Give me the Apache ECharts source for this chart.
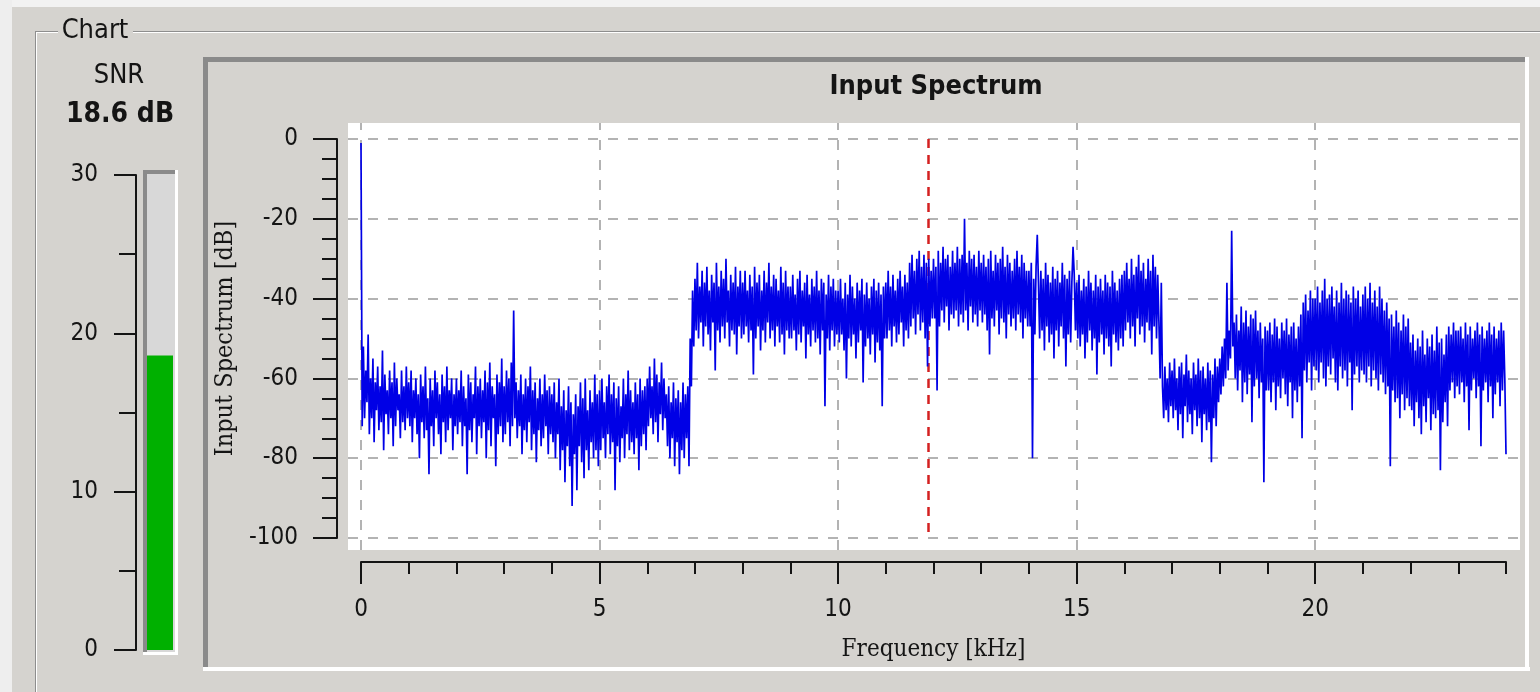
<!DOCTYPE html>
<html>
<head>
<meta charset="utf-8">
<script src="https://cdn.jsdelivr.net/npm/echarts@6/dist/echarts.min.js"></script>
<style>
html, body { margin: 0; padding: 0; background: #d5d3cf; }
#main { width: 1540px; height: 692px; }
</style>
</head>
<body>
<div id="main"></div>
<script>
// SNR meter
var snrRange = [0, 30];
var snrValue = 18.6;

// spectrum axes
var freqTicks = [0, 5, 10, 15, 20];
var dbTicks = [0, -20, -40, -60, -80, -100];
var freqMax = 24;
var markerFreq = 11.9;
var binWidth = 0.025; // kHz per bin

// input spectrum in dB, one row per kHz (40 bins each)
var specLowBand = [
    -1, -72, -52, -70, -58, -66, -49, -74, -60, -70, -55, -76, -61, -68, -57, -73, -62, -71, -53, -78,
    -59, -69, -63, -74, -58, -70, -61, -77, -56, -72, -60, -68, -64, -75, -58, -71, -62, -73, -57, -70,
    -61, -72, -58, -76, -63, -70, -60, -74, -64, -80, -59, -71, -62, -75, -57, -73, -65, -84, -60, -72,
    -63, -77, -58, -70, -61, -74, -64, -79, -59, -71, -62, -76, -57, -73, -63, -70, -60, -78, -64, -72,
    -60, -74, -63, -71, -58, -77, -62, -72, -65, -84, -59, -73, -61, -76, -64, -70, -57, -79, -62, -72,
    -60, -75, -63, -71, -58, -80, -61, -73, -56, -77, -62, -70, -64, -82, -59, -74, -61, -72, -55, -76,
    -62, -74, -58, -71, -60, -77, -56, -72, -43, -70, -61, -75, -63, -72, -59, -79, -64, -73, -60, -76,
    -62, -71, -57, -78, -63, -74, -61, -81, -65, -73, -60, -77, -64, -75, -59, -72, -63, -79, -62, -74,
    -64, -76, -61, -80, -66, -74, -60, -83, -67, -78, -63, -86, -68, -77, -62, -82, -66, -92, -69, -79,
    -64, -88, -67, -77, -61, -81, -65, -85, -60, -78, -68, -83, -63, -76, -66, -80, -59, -78, -64, -82,
    -63, -78, -60, -75, -66, -80, -62, -74, -59, -79, -64, -76, -61, -88, -65, -77, -62, -81, -67, -75,
    -60, -80, -64, -74, -58, -78, -63, -76, -66, -79, -61, -75, -64, -83, -60, -77, -63, -74, -62, -78,
    -60, -72, -57, -70, -62, -74, -55, -71, -59, -76, -61, -69, -56, -73, -60, -70, -64, -77, -62, -80,
    -66, -75, -61, -82, -65, -76, -63, -84, -66, -78, -61, -80, -64, -75, -62, -82, -50, -62, -38, -52
];
var specMidBand = [
    -35, -48, -31, -50, -37, -46, -33, -52, -36, -47, -32, -49, -38, -53, -34, -46, -36, -58, -31, -48,
    -37, -51, -33, -47, -35, -50, -30, -46, -38, -52, -34, -48, -36, -49, -32, -54, -37, -47, -33, -50,
    -36, -49, -33, -47, -38, -51, -34, -48, -37, -59, -32, -50, -36, -47, -34, -53, -38, -48, -33, -51,
    -36, -46, -31, -50, -37, -48, -34, -52, -35, -47, -38, -51, -32, -49, -36, -54, -33, -48, -37, -50,
    -37, -50, -34, -48, -39, -53, -35, -49, -33, -51, -38, -47, -36, -55, -34, -49, -39, -52, -35, -48,
    -37, -51, -33, -50, -38, -54, -35, -48, -36, -67, -39, -50, -34, -53, -37, -48, -35, -52, -38, -49,
    -38, -51, -35, -49, -40, -53, -36, -60, -39, -50, -34, -52, -37, -49, -40, -55, -36, -51, -38, -48,
    -35, -61, -39, -52, -36, -50, -40, -54, -37, -49, -35, -56, -38, -51, -36, -53, -39, -67, -37, -50,
    -36, -50, -33, -48, -37, -52, -34, -47, -38, -51, -35, -49, -33, -46, -37, -52, -34, -48, -36, -50,
    -31, -47, -29, -45, -33, -49, -30, -44, -28, -48, -32, -46, -29, -50, -31, -57, -30, -47, -33, -45,
    -30, -45, -32, -63, -28, -47, -31, -43, -27, -46, -30, -42, -29, -48, -32, -44, -28, -45, -31, -43,
    -27, -47, -30, -44, -29, -46, -20, -43, -31, -48, -28, -42, -30, -46, -29, -44, -32, -47, -28, -43,
    -31, -46, -29, -44, -32, -48, -30, -54, -28, -45, -33, -47, -29, -43, -31, -49, -30, -45, -27, -46,
    -32, -50, -29, -44, -31, -47, -33, -45, -30, -48, -28, -44, -32, -46, -29, -50, -31, -45, -33, -47,
    -33, -47, -31, -80, -35, -49, -32, -24, -36, -50, -33, -48, -35, -53, -31, -47, -34, -51, -36, -49,
    -32, -55, -35, -48, -33, -52, -36, -47, -31, -50, -34, -57, -35, -49, -33, -51, -36, -27, -34, -48,
    -36, -50, -34, -52, -38, -49, -35, -55, -37, -51, -33, -48, -36, -53, -38, -50, -34, -59, -37, -51,
    -35, -49, -38, -54, -34, -50, -36, -52, -37, -57, -33, -49, -36, -51, -38, -53, -35, -50, -34, -52,
    -33, -48, -31, -46, -35, -50, -30, -47, -34, -52, -32, -45, -29, -49, -33, -47, -31, -51, -35, -46,
    -30, -48, -33, -54, -29, -47, -32, -50, -34, -46, -60, -36, -62, -70, -57, -68, -60, -71, -56, -67
];
var specHighBand = [
    -58, -70, -55, -68, -60, -73, -57, -69, -56, -75, -59, -67, -54, -71, -58, -69, -60, -74, -56, -68,
    -59, -72, -55, -70, -58, -76, -57, -69, -60, -73, -56, -71, -58, -81, -59, -70, -55, -72, -57, -66,
    -55, -64, -52, -62, -50, -60, -36, -58, -48, -55, -23, -52, -46, -60, -44, -63, -48, -58, -42, -66,
    -46, -61, -43, -64, -47, -59, -44, -71, -45, -62, -43, -60, -48, -65, -46, -61, -50, -86, -47, -63,
    -48, -63, -46, -66, -49, -61, -45, -68, -47, -62, -50, -65, -46, -60, -48, -64, -45, -67, -49, -61,
    -47, -70, -46, -63, -50, -66, -47, -62, -44, -75, -41, -58, -39, -61, -43, -56, -38, -63, -40, -57,
    -40, -58, -37, -61, -41, -56, -38, -60, -35, -62, -40, -57, -39, -59, -37, -55, -42, -61, -38, -63,
    -41, -57, -36, -60, -40, -58, -38, -62, -39, -56, -41, -68, -37, -59, -40, -57, -38, -61, -42, -58,
    -39, -59, -37, -61, -40, -57, -36, -62, -41, -58, -38, -60, -42, -63, -37, -59, -40, -61, -43, -64,
    -41, -62, -45, -82, -44, -63, -47, -66, -43, -65, -46, -70, -48, -64, -44, -68, -47, -65, -45, -67,
    -51, -68, -49, -72, -53, -66, -50, -70, -52, -74, -48, -67, -54, -71, -50, -65, -52, -73, -49, -69,
    -53, -70, -47, -68, -51, -83, -50, -71, -54, -66, -49, -72, -47, -63, -49, -61, -46, -65, -48, -62,
    -48, -64, -47, -61, -50, -66, -46, -62, -49, -73, -47, -63, -50, -60, -48, -65, -46, -62, -49, -77,
    -47, -63, -50, -61, -48, -66, -46, -62, -49, -70, -47, -64, -50, -61, -48, -67, -46, -63, -48, -60,
    -79
];

var spectrum = specLowBand.concat(specMidBand, specHighBand).map(function (v, i) {
    return [+(i * binWidth).toFixed(3), v];
});

// layout (pixels)
var axisLeft = 361, axisRight = 1506, axisTop = 139, axisBottom = 538;
var plotLeft = 348, plotRight = 1520, plotTop = 123, plotBottom = 550;
var pxPerKHz = (axisRight - axisLeft) / freqMax;
var pxPerDb = (axisBottom - axisTop) / 100;
var xMinA = -(axisLeft - plotLeft) / pxPerKHz;
var xMaxA = freqMax + (plotRight - axisRight) / pxPerKHz;
var yMaxA = (axisTop - plotTop) / pxPerDb;
var yMinA = -100 - (plotBottom - axisBottom) / pxPerDb;

var tickFont = '"DejaVu Sans Condensed", "DejaVu Sans", sans-serif';
var serifFont = '"DejaVu Serif Condensed", "DejaVu Serif", serif';
var uiFont = '"DejaVu Sans Condensed", "DejaVu Sans", sans-serif';
var ink = '#141414';

function txt(x, y, s, font, align) {
    return {
        type: 'text', x: x, y: y, silent: true, z: 1,
        style: { text: s, font: font, fill: ink, align: align || 'center', verticalAlign: 'middle',
                 textAlign: align || 'center', textVerticalAlign: 'middle' }
    };
}
function box(x, y, w, h, fill, z) {
    return { type: 'rect', silent: true, z: z || 0, shape: { x: x, y: y, width: w, height: h }, style: { fill: fill } };
}

var dom = document.getElementById("main");
var myChart = echarts.init(dom);
var option = {
    animation: false,
    backgroundColor: '#d5d3cf',
    graphic: {
        elements: [
            box(0, 0, 1540, 7, '#f2f2f2'),
            box(0, 0, 12, 692, '#eeeeee'),
            // group box "Chart"
            box(35, 31, 23, 1, '#8e8e8e'), box(35, 32, 23, 1, '#ffffff'),
            box(133, 31, 1407, 1, '#8e8e8e'), box(133, 32, 1407, 1, '#ffffff'),
            box(35, 31, 1, 661, '#8e8e8e'), box(36, 32, 1, 660, '#ffffff'),
            txt(95, 31, 'Chart', '27px ' + uiFont),
            txt(119, 76, 'SNR', '27px ' + uiFont),
            txt(120, 115, snrValue + ' dB', 'bold 28px ' + uiFont),
            // meter well
            box(143, 170, 35, 485, '#ffffff', 1),
            box(143, 170, 32, 482, '#8a8a8a', 1),
            box(147, 174, 28, 478, '#d8d8d8', 1),
            // sunken chart panel
            box(203, 57, 1326, 5, '#8a8a8a'),
            box(203, 57, 5, 614, '#8a8a8a'),
            box(203, 667, 1327, 4, '#ffffff'),
            box(1525, 57, 4, 614, '#ffffff'),
            txt(936, 87, 'Input Spectrum', 'bold 27px ' + uiFont)
        ]
    },
    grid: [
        { left: 136, top: 175, width: 48, height: 475 },
        { left: plotLeft, top: plotTop, width: plotRight - plotLeft, height: plotBottom - plotTop,
          show: true, backgroundColor: '#ffffff', borderWidth: 0 },
        { left: axisLeft, top: axisTop, width: axisRight - axisLeft, height: axisBottom - axisTop },
        { left: axisLeft, top: axisTop, width: axisRight - axisLeft, height: axisBottom - axisTop }
    ],
    xAxis: [
        { gridIndex: 0, type: 'category', data: ['SNR'], show: false },
        { gridIndex: 1, type: 'value', min: xMinA, max: xMaxA, show: false },
        {
            gridIndex: 2, type: 'value', min: 0, max: freqMax, interval: 5, offset: 24,
            axisLine: { show: true, onZero: false, lineStyle: { color: ink, width: 2 } },
            axisTick: { show: true, length: 22, customValues: freqTicks, lineStyle: { color: ink, width: 2 } },
            axisLabel: { customValues: freqTicks, margin: 36, fontFamily: tickFont, fontSize: 24, color: ink },
            splitLine: { show: false },
            name: 'Frequency [kHz]', nameLocation: 'middle', nameGap: 76,
            nameTextStyle: { fontFamily: serifFont, fontSize: 24, color: ink }
        },
        {
            gridIndex: 3, type: 'value', min: 0, max: freqMax, interval: 1, offset: 24,
            axisLine: { show: false, onZero: false },
            axisTick: { show: true, length: 12, lineStyle: { color: ink, width: 2 } },
            axisLabel: { show: false },
            splitLine: { show: false }
        }
    ],
    yAxis: [
        {
            gridIndex: 0, type: 'value', min: snrRange[0], max: snrRange[1], interval: 10,
            axisLine: { show: true, onZero: false, lineStyle: { color: ink, width: 2 } },
            axisTick: { show: true, length: 22, lineStyle: { color: ink, width: 2 } },
            minorTick: { show: true, splitNumber: 2, length: 17, lineStyle: { color: ink, width: 2 } },
            axisLabel: { margin: 38, fontFamily: tickFont, fontSize: 24, color: ink },
            splitLine: { show: false }
        },
        { gridIndex: 1, type: 'value', min: yMinA, max: yMaxA, show: false },
        {
            gridIndex: 2, type: 'value', min: -100, max: 0, interval: 20, offset: 24,
            axisLine: { show: true, onZero: false, lineStyle: { color: ink, width: 2 } },
            axisTick: { show: true, length: 24, lineStyle: { color: ink, width: 2 } },
            minorTick: { show: true, splitNumber: 4, length: 15, lineStyle: { color: ink, width: 2 } },
            axisLabel: { margin: 39, fontFamily: tickFont, fontSize: 24, color: ink },
            splitLine: { show: false },
            name: 'Input Spectrum [dB]', nameLocation: 'middle', nameGap: 89,
            nameTextStyle: { fontFamily: serifFont, fontSize: 25, color: ink }
        },
        { gridIndex: 3, type: 'value', min: -100, max: 0, show: false }
    ],
    series: [
        {
            name: 'SNR', type: 'bar', xAxisIndex: 0, yAxisIndex: 0,
            barWidth: 26, data: [snrValue], z: 3,
            itemStyle: { color: '#00b000' }
        },
        {
            name: 'grid', type: 'line', xAxisIndex: 1, yAxisIndex: 1, data: [],
            markLine: {
                silent: true, symbol: 'none', z: 1, animation: false,
                label: { show: false },
                lineStyle: { color: '#9a9a9a', width: 1.5, type: [10, 10] },
                data: freqTicks.map(function (f) { return { xAxis: f }; })
                    .concat(dbTicks.map(function (d) { return { yAxis: d }; }))
                    .concat([[
                        { coord: [markerFreq, 0], lineStyle: { color: '#d42020', width: 2.5, type: [9, 7] } },
                        { coord: [markerFreq, -100] }
                    ]])
            }
        },
        {
            name: 'Input Spectrum', type: 'line', xAxisIndex: 1, yAxisIndex: 1,
            data: spectrum, showSymbol: false, symbol: 'none', sampling: 'none', z: 3,
            lineStyle: { color: '#0000e6', width: 1.7 }
        }
    ]
};
if (option && typeof option === "object") {
    myChart.setOption(option, true);
}
</script>
</body>
</html>
